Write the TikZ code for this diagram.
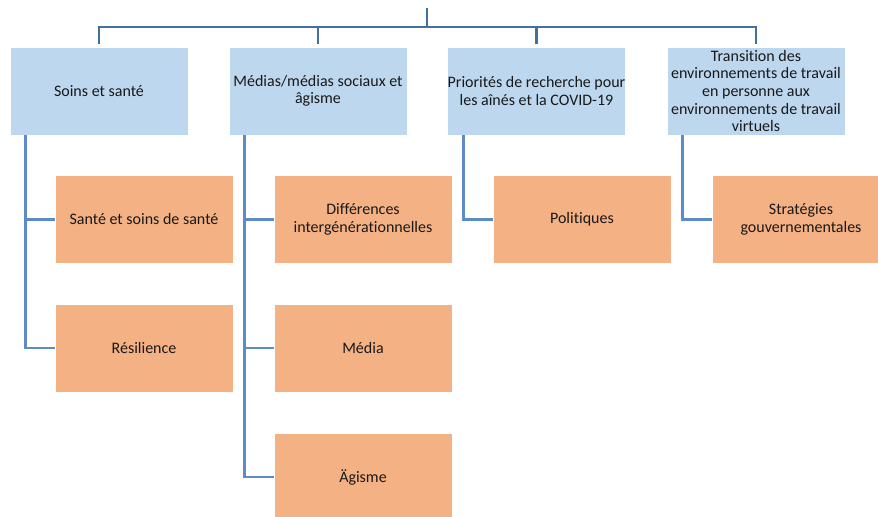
\documentclass[tikz,border=0pt]{standalone}
\usepackage{fontspec}
\setmainfont{Carlito}[Ligatures=NoCommon]
\definecolor{blueFill}{HTML}{BDD7EE}
\definecolor{orangeFill}{HTML}{F4B183}
\definecolor{topLine}{HTML}{41719C}
\definecolor{subLine}{HTML}{5B8CC8}
\begin{document}
\begin{tikzpicture}[x=0.75pt,y=-0.75pt,
  boxbase/.style={draw=white, line width=0.6pt, minimum width=133.5pt, minimum height=66pt,
    inner sep=0pt, align=center, font=\fontsize{12}{13.2}\selectfont, text=black!90},
  lvlone/.style={boxbase, fill=blueFill},
  lvltwo/.style={boxbase, fill=orangeFill},
  topconn/.style={draw=topLine, line width=2.2pt},
  subconn/.style={draw=subLine, line width=2.2pt}]
\useasboundingbox (0,0) rectangle (878,517);
\clip (0,0) rectangle (878,517);
\fill[white] (0,0) rectangle (878,517);

% level one
\node[lvlone] (b1) at (99,91) {Soins et santé};
\node[lvlone] (b2) at (318,91) {Médias/médias sociaux et\\âgisme};
\node[lvlone] (b3) at (536.5,91) {Priorités de recherche pour\\les aînés et la COVID-19};
\node[lvlone] (b4) at (756,91) {Transition des\\environnements de travail\\en personne aux\\environnements de travail\\virtuels};

% level two
\node[lvltwo] (o11) at (144,219.5) {Santé et soins de santé};
\node[lvltwo] (o12) at (144,348) {Résilience};
\node[lvltwo] (o21) at (363,219.5) {Différences\\intergénérationnelles};
\node[lvltwo] (o22) at (363,348) {Média};
\node[lvltwo] (o23) at (363,477) {Ägisme};
\node[lvltwo] (o31) at (582,219.5) {Politiques};
\node[lvltwo] (o41) at (801,219.5) {Stratégies\\gouvernementales};

% top connectors
\coordinate (top) at (427,8);
\coordinate (hub) at (427,27);
\draw[topconn] (top) -- (hub);
\draw[topconn] ([yshift=2pt]b1.north) |- (hub) -| ([yshift=2pt]b4.north);
\draw[topconn] ([yshift=2pt]b2.north) -- (b2.north |- hub);
\draw[topconn] ([yshift=2pt]b3.north) -- (b3.north |- hub);

% sub connectors
\draw[subconn] ([xshift=12pt]b1.south west) |- (o12.west);
\draw[subconn] ([xshift=12pt]b1.south west) |- (o11.west);
\draw[subconn] ([xshift=12pt]b2.south west) |- (o23.west);
\draw[subconn] ([xshift=12pt]b2.south west) |- (o22.west);
\draw[subconn] ([xshift=12pt]b2.south west) |- (o21.west);
\draw[subconn] ([xshift=12.5pt]b3.south west) |- (o31.west);
\draw[subconn] ([xshift=12pt]b4.south west) |- (o41.west);
\end{tikzpicture}
\end{document}
